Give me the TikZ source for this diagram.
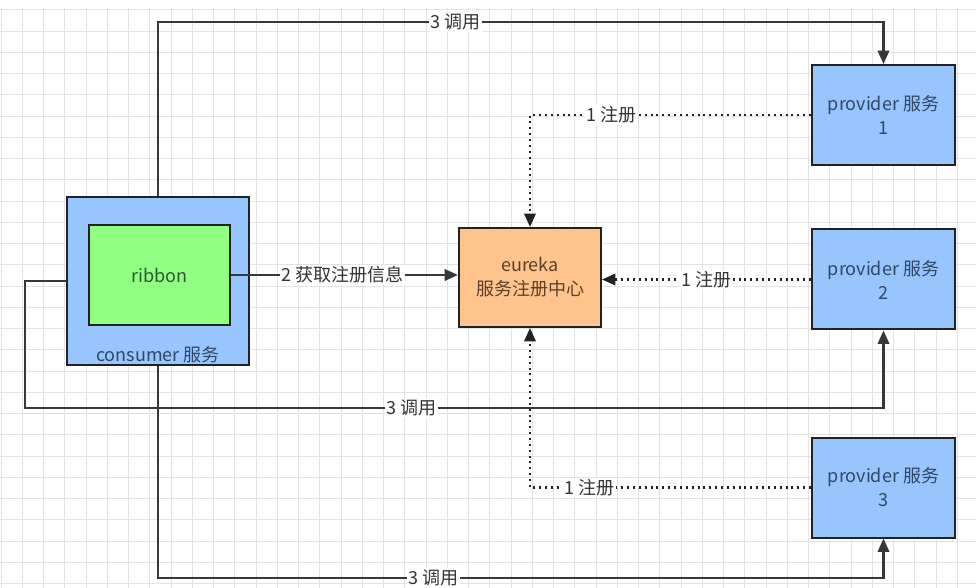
\documentclass[tikz,border=0pt]{standalone}
\usepackage{fontspec}
\setmainfont{Noto Sans CJK SC}
\usetikzlibrary{arrows.meta}
\definecolor{gridc}{HTML}{E3E3E3}
\definecolor{blueF}{HTML}{99C5FF}
\definecolor{greenF}{HTML}{91FF82}
\definecolor{orangeF}{HTML}{FFC38C}
\definecolor{edgec}{HTML}{222222}
\definecolor{txt}{HTML}{333333}
\definecolor{bluetxt}{HTML}{2E4866}
\definecolor{greentxt}{HTML}{2E5A30}
\definecolor{orangetxt}{HTML}{5A4028}
\tikzset{
  box/.style={draw=edgec, line width=1.5pt, align=center, font=\fontsize{13.5}{18}\selectfont, inner sep=0pt},
  callline/.style={draw=edgec!90!white, line width=1.8pt, -{Triangle[length=10pt,width=8.5pt]}},
  regline/.style={draw=edgec, line width=1.7pt, dash pattern=on 1.5pt off 2.9pt, -{Triangle[length=10pt,width=8.5pt]}},
  lbl/.style={fill=white, inner sep=1.2pt, text=txt, font=\fontsize{13.5}{16}\selectfont},
}
\begin{document}
\begin{tikzpicture}[x=0.75pt,y=-0.75pt]
\useasboundingbox (0,0) rectangle (976,588);
\fill[white] (0,0) rectangle (976,588);
% grid
\foreach \i in {0,...,46} {
  \draw[gridc, line width=0.6pt] ({1+21.25*\i},8) -- ({1+21.25*\i},588);
}
\foreach \j in {0,...,27} {
  \draw[gridc, line width=0.6pt] (0,{9.7+21.25*\j}) -- (976,{9.7+21.25*\j});
}
% nodes
\node[box, fill=blueF, minimum width=136.5pt, minimum height=126pt] (consumer) at (158,281) {};
\node[text=bluetxt, font=\fontsize{13.5}{16}\selectfont, inner sep=0pt] (consumerlbl) at (158,355) {consumer 服务};
\node[box, fill=greenF, text=greentxt, minimum width=105.75pt, minimum height=75pt] (ribbon) at (159.5,275) {ribbon};
\node[box, fill=orangeF, text=orangetxt, minimum width=106.5pt, minimum height=74.25pt] (eureka) at (530,277.5) {eureka\\服务注册中心};
\node[box, fill=blueF, text=bluetxt, minimum width=107.25pt, minimum height=75pt] (p1) at (883.5,115) {provider 服务\\1};
\node[box, fill=blueF, text=bluetxt, minimum width=107.25pt, minimum height=75pt] (p2) at (883.5,279.5) {provider 服务\\2};
\node[box, fill=blueF, text=bluetxt, minimum width=107.25pt, minimum height=75pt] (p3) at (883.5,487.5) {provider 服务\\3};
% helper coordinates
\coordinate (ytop) at (0,22);
\coordinate (ymid) at (0,408);
\coordinate (ybot) at (0,578);
\coordinate (xleft) at (25,0);
% call connectors
\draw[callline] (consumer.north) -- (consumer.north |- ytop)
  -- node[lbl, pos=0.41] {3 调用} (p1.north |- ytop) -- (p1.north);
\draw[callline] (consumer.west) -- (xleft |- consumer.west) -- (xleft |- ymid)
  -- node[lbl, pos=0.45] {3 调用} (p2.south |- ymid) -- (p2.south);
\draw[callline] (consumer.south) -- (consumer.south |- ybot)
  -- node[lbl, pos=0.38] {3 调用} (p3.south |- ybot) -- (p3.south);
\draw[callline] (ribbon.east) -- node[lbl, pos=0.49] {2 获取注册信息} (eureka.west |- ribbon.east);
% register connectors
\draw[regline] (p1.west) -- node[lbl, pos=0.71] {1 注册} (eureka.north |- p1.west) -- (eureka.north);
\draw[regline] (p2.west) -- node[lbl, pos=0.5] {1 注册} (eureka.east |- p2.west);
\draw[regline] (p3.west) -- node[lbl, pos=0.79] {1 注册} (eureka.south |- p3.west) -- (eureka.south);
\end{tikzpicture}
\end{document}
